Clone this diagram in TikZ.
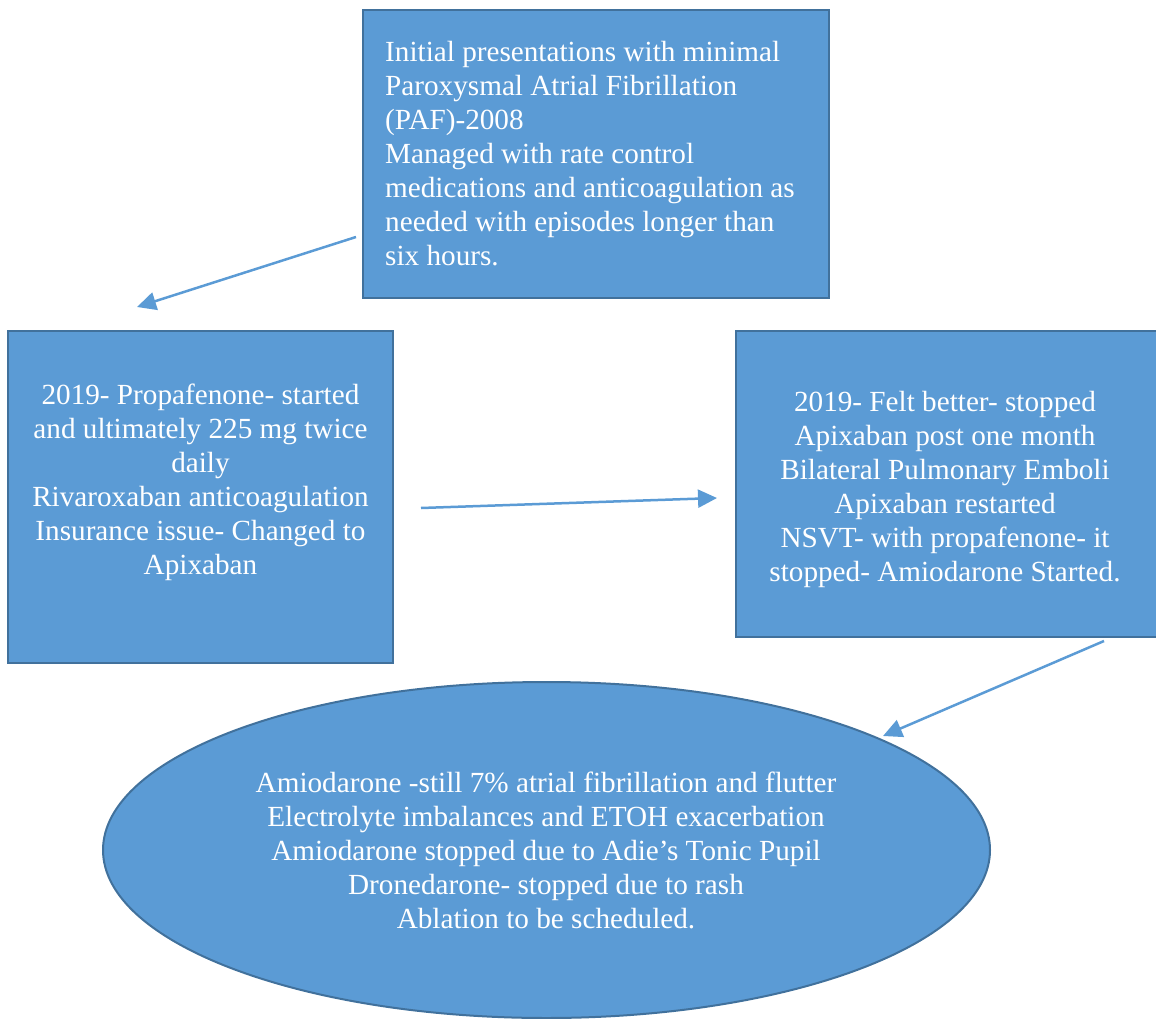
\documentclass[tikz,border=0pt]{standalone}
\usepackage{fontspec}
\setmainfont{Liberation Serif}
\usetikzlibrary{shapes.geometric,arrows.meta}
\definecolor{boxblue}{HTML}{5B9BD5}
\definecolor{edgeblue}{HTML}{41719C}
\tikzstyle{stage}=[rectangle,draw=edgeblue,fill=boxblue,line width=2pt,inner sep=0pt]
\tikzstyle{outcome}=[ellipse,draw=edgeblue,fill=boxblue,line width=2pt,inner sep=0pt]
\tikzstyle{note}=[text=white,font=\fontsize{29.2}{34}\selectfont,inner sep=0pt]
\tikzstyle{flow}=[draw=boxblue,line width=2.5pt,-{Triangle[length=19pt,width=18pt]}]

\begin{document}
\begin{tikzpicture}[x=1pt,y=-1pt]
\useasboundingbox (0,0) rectangle (1156,1019);
% boxes
\node[stage,minimum width=466pt,minimum height=288pt] at (596,154) (init) {};
\node[stage,minimum width=385pt,minimum height=332pt] at (200.5,497) (propa) {};
\node[stage,minimum width=434pt,minimum height=306pt] at (953,484) (apix) {};
\node[outcome,minimum width=887pt,minimum height=336pt] at (546.5,850) (amio) {};
% texts
\node[note,align=left,anchor=west] at (385,154) (inittext) {Initial presentations with minimal\\Paroxysmal Atrial Fibrillation\\(PAF)-2008\\Managed with rate control\\medications and anticoagulation as\\needed with episodes longer than\\six hours.};
\node[note,align=center] at (200.5,482.5) (propatext) {2019- Propafenone- started\\and ultimately 225 mg twice\\daily\\Rivaroxaban anticoagulation\\Insurance issue- Changed to\\Apixaban};
\node[note,align=center] at (945,489) (apixtext) {2019- Felt better- stopped\\Apixaban post one month\\Bilateral Pulmonary Emboli\\Apixaban restarted\\NSVT- with propafenone- it\\stopped- Amiodarone Started.};
\node[note,align=center] at (546,850.5) (amiotext) {Amiodarone -still 7\% atrial fibrillation and flutter\\Electrolyte imbalances and ETOH exacerbation\\Amiodarone stopped due to Adie’s Tonic Pupil\\Dronedarone- stopped due to rash\\Ablation to be scheduled.};
% arrow ends
\coordinate (a1) at (356,237);
\coordinate (b1) at (137,307);
\coordinate (a2) at (421,508);
\coordinate (b2) at (717,498);
\coordinate (a3) at (1104,641);
\coordinate (b3) at (883,736);
\draw[flow] (a1) -- (b1);
\draw[flow] (a2) -- (b2);
\draw[flow] (a3) -- (b3);
\end{tikzpicture}
\end{document}
